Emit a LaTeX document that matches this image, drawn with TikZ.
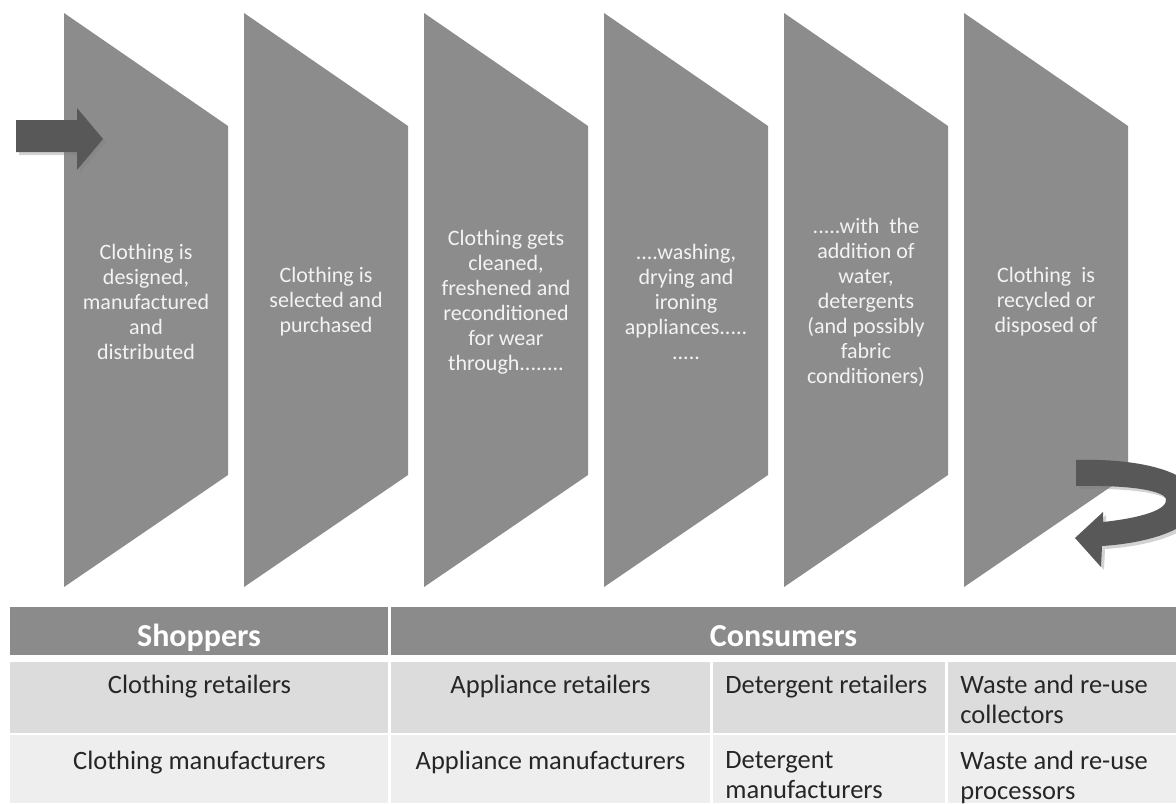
\documentclass[tikz,border=0pt]{standalone}
\usepackage{fontspec}
\setmainfont{Carlito}
\usetikzlibrary{positioning,shadows}

\definecolor{stagegray}{RGB}{140,140,140}
\definecolor{arrowgray}{RGB}{88,88,88}
\definecolor{headgray}{RGB}{139,139,139}
\definecolor{rowone}{RGB}{220,220,220}
\definecolor{rowtwo}{RGB}{238,238,238}
\definecolor{celltext}{RGB}{38,38,38}
\definecolor{stagetext}{RGB}{243,243,243}

\tikzset{
  stagelabel/.style={align=center, text=stagetext, font=\fontsize{11}{12.5}\selectfont},
  headcell/.style={fill=headgray, text=white, font=\bfseries\fontsize{16}{19}\selectfont, minimum height=24pt, inner sep=0pt, text height=16pt, text depth=1pt},
  cellcenter/.style={anchor=north, align=center, inner sep=0pt, text=celltext, font=\fontsize{13.25}{15}\selectfont},
  cellleft/.style={anchor=north west, align=left, inner sep=0pt, text=celltext, font=\fontsize{13.25}{15}\selectfont},
  blockarrow/.style={fill=arrowgray, drop shadow={opacity=0.35, shadow xshift=1.5pt, shadow yshift=-1.5pt}}
}

\begin{document}
\begin{tikzpicture}[node distance=90pt, x=0.5pt, y=-0.5pt]
        \useasboundingbox (0,0) rectangle (1176,803);
        \fill[white] (0,0) rectangle (1176,803);
        \clip (0,0) rectangle (1176,803);

        % Draw stages
        \foreach \i in {0,...,5}
            \fill[stagegray] ({64+180*\i},13) -- ++(164,113) -- ++(0,349) -- ++(-164,112) -- cycle;

        % Define nodes
        \node (designed) [stagelabel] at (146,302) {Clothing is\\designed,\\manufactured\\and\\distributed};
        \node (purchased) [stagelabel, right of=designed] {Clothing is\\selected and\\purchased};
        \node (cleaned) [stagelabel, right of=purchased] {Clothing gets\\cleaned,\\freshened and\\reconditioned\\for wear\\through........};
        \node (appliances) [stagelabel, right of=cleaned] {....washing,\\drying and\\ironing\\appliances.....\\.....};
        \node (detergents) [stagelabel, right of=appliances] {.....with\ \ the\\addition of\\water,\\detergents\\(and possibly\\fabric\\conditioners)};
        \node (disposed) [stagelabel, right of=detergents] {Clothing\ \ is\\recycled or\\disposed of};

        % Draw arrows
        \fill[blockarrow] (16,120) -- (77,120) -- (77,108) -- (103,139) -- (77,170) -- (77,152) -- (16,152) -- cycle;
        \fill[blockarrow] (1076,460) .. controls (1140,458) and (1198,472) .. (1198,502)
            .. controls (1198,528) and (1150,543) .. (1102,546) -- (1101,567) -- (1075,538) -- (1103,512) -- (1103,522)
            .. controls (1140,518) and (1168,510) .. (1166,499) .. controls (1163,489) and (1120,485) .. (1076,486) -- cycle;

        % Table
        \node (shoppers) [headcell, minimum width=189pt] at (199,631) {Shoppers};
        \node (consumers) [headcell, minimum width=392.5pt] at (783.5,631) {Consumers};
        \fill[rowone] (10,662) rectangle (1176,733);
        \fill[rowtwo] (10,735) rectangle (1176,803);
        \draw[white, line width=1.5pt] (389.5,607) -- (389.5,803) (711,662) -- (711,803) (946,662) -- (946,803);

        \node (clothret) [cellcenter] at (199.5,675) {Clothing retailers};
        \node (applret) [cellcenter] at (550.5,675) {Appliance retailers};
        \node (detret) [cellleft] at (725,675) {Detergent retailers};
        \node (wastecol) [cellleft] at (960,675) {Waste and re-use\\collectors};
        \node (clothman) [cellcenter] at (199.5,751) {Clothing manufacturers};
        \node (applman) [cellcenter] at (550.5,751) {Appliance manufacturers};
        \node (detman) [cellleft] at (725,751) {Detergent\\manufacturers};
        \node (wasteproc) [cellleft] at (960,751) {Waste and re-use\\processors};
    \end{tikzpicture}
\end{document}
